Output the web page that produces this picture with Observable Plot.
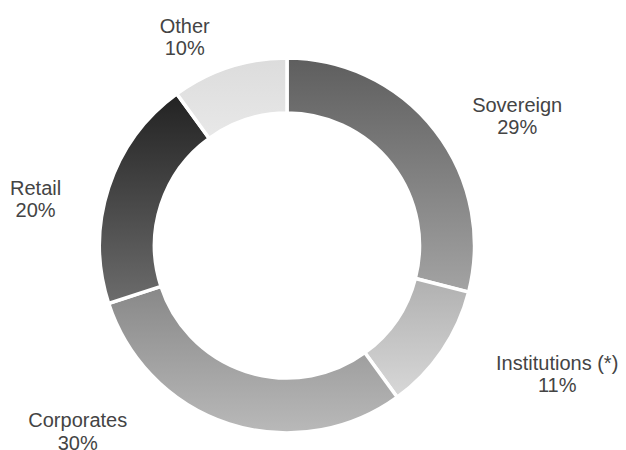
<!DOCTYPE html>
<html><head><meta charset="utf-8">
<script src="https://cdn.jsdelivr.net/npm/d3@7"></script>
<script src="https://cdn.jsdelivr.net/npm/@observablehq/plot@0.6"></script>
<style>body{margin:0;background:#fff}</style>
</head><body><div id="chart"></div>
<script>
// ---- data ----
const categories = ["Sovereign", "Institutions (*)", "Corporates", "Retail", "Other"];
const shares = [29, 11, 30, 20, 10];
const shareLabels = ["29%", "11%", "30%", "20%", "10%"];

// ---- styles / layout ----
const gradTop    = ["#5e5e5e", "#b0b0b0", "#888888", "#222222", "#dcdcdc"];
const gradBottom = ["#a3a3a3", "#d8d8d8", "#b9b9b9", "#6c6c6c", "#e8e8e8"];
const W = 626, H = 450;
const cx = 287, cy = 245.5, R = 187.5, r0 = 132.5, gap = 3.5;
const labelRadius = 216;
const labelNudge = [[59, 2.5], [91, 6.5], [-143, -20], [-46.5, 19.5], [-36, -4]];

const data = categories.map((c, i) => ({category: c, value: shares[i], label: c + "\n" + shareLabels[i], i}));
const arcs = d3.pie().sort(null).value(d => d.value)(data);
const labelData = arcs.map((a, i) => {
  const m = (a.startAngle + a.endAngle) / 2;
  return {...a.data,
    lx: cx + labelRadius * Math.sin(m) + labelNudge[i][0],
    ly: cy - labelRadius * Math.cos(m) + labelNudge[i][1]};
});

const donut = (index, scales) => {
  const X = scales.x(cx), Y = scales.y(cy);
  const svg = d3.create("svg:g");
  const defs = svg.append("defs");
  arcs.forEach((a, i) => {
    const g = defs.append("linearGradient").attr("id", "grad" + i)
      .attr("x1", 0).attr("y1", 0).attr("x2", 0).attr("y2", 1);
    g.append("stop").attr("offset", "0%").attr("stop-color", gradTop[i]);
    g.append("stop").attr("offset", "100%").attr("stop-color", gradBottom[i]);
  });
  const arcGen = d3.arc().innerRadius(r0).outerRadius(R);
  svg.append("g").attr("transform", `translate(${X},${Y})`)
    .selectAll("path").data(arcs).join("path")
    .attr("d", arcGen)
    .attr("fill", (d, i) => `url(#grad${i})`)
    .attr("stroke", "#fff").attr("stroke-width", gap).attr("stroke-linejoin", "miter");
  return svg.node();
};

const chart = Plot.plot({
  width: W, height: H,
  marginTop: 0, marginRight: 0, marginBottom: 0, marginLeft: 0,
  x: {domain: [0, W], range: [0, W], axis: null},
  y: {domain: [0, H], range: [0, H], axis: null},
  style: {background: "#fff"},
  marks: [
    donut,
    Plot.text(labelData, {
      x: "lx", y: "ly", text: "label",
      fontSize: 20, fontFamily: "Liberation Sans, Arial, sans-serif",
      fill: "#444", lineHeight: 1.12, textAnchor: "middle", lineAnchor: "middle"
    })
  ]
});
document.getElementById("chart").appendChild(chart);
</script>
</body></html>
